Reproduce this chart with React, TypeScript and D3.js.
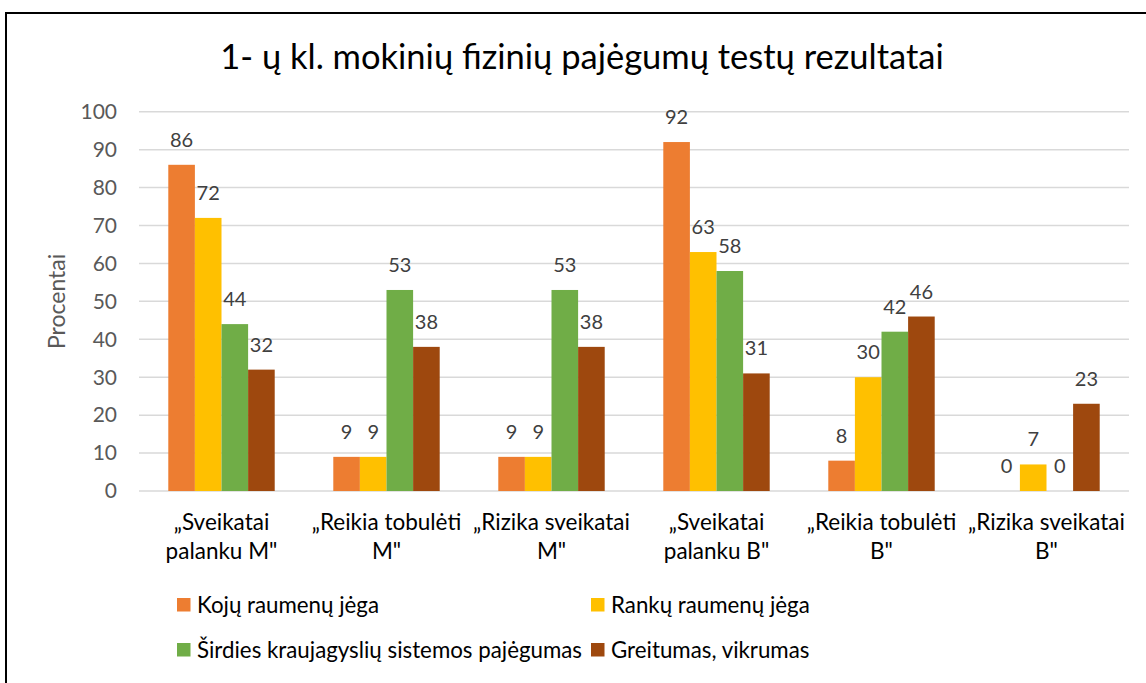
import React from "react";
import * as d3 from "d3";

const categories = [
  ["„Sveikatai", "palanku M\""],
  ["„Reikia tobulėti", "M\""],
  ["„Rizika sveikatai", "M\""],
  ["„Sveikatai", "palanku B\""],
  ["„Reikia tobulėti", "B\""],
  ["„Rizika sveikatai", "B\""],
];
const seriesNames = [
  "Kojų raumenų jėga",
  "Rankų raumenų jėga",
  "Širdies kraujagyslių sistemos pajėgumas",
  "Greitumas, vikrumas",
];
const kojuValues = [86, 9, 9, 92, 8, 0];
const rankuValues = [72, 9, 9, 63, 30, 7];
const sirdiesValues = [44, 53, 53, 58, 42, 0];
const greitumasValues = [32, 38, 38, 31, 46, 23];
const yTicks = [0, 10, 20, 30, 40, 50, 60, 70, 80, 90, 100];
const colors = ["#ED7D31", "#FFC000", "#70AD47", "#9E480E"];

const W = 1146;
const H = 683;
const font = "Lato, 'Open Sans', sans-serif";

const App = () => {
  const series = [kojuValues, rankuValues, sirdiesValues, greitumasValues];
  const left = 139, right = 1129, top = 111.7, bottom = 491;

  const x = d3.scaleBand<number>()
    .domain(d3.range(categories.length))
    .range([left, right]);
  const groupW = x.bandwidth() * 0.645;
  const xs = d3.scaleBand<number>()
    .domain(d3.range(series.length))
    .range([(x.bandwidth() - groupW) / 2, (x.bandwidth() + groupW) / 2]);
  const y = d3.scaleLinear().domain([0, 100]).range([bottom, top]);

  return (
    <svg width={W} height={H} style={{ position: "absolute", left: 0, top: 0 }} fontFamily={font}>
      <rect x={0} y={0} width={W} height={H} fill="white" />
      <rect x={6} y={13} width={W + 20} height={H + 20} fill="none" stroke="black" strokeWidth={2} />
      <text x={582} y={69} textAnchor="middle" fontSize={34.5} fill="#000">
        1- ų kl. mokinių fizinių pajėgumų testų rezultatai
      </text>

      {yTicks.map(t => (
        <g key={t}>
          <line x1={left} x2={right} y1={y(t)} y2={y(t)} stroke="#d9d9d9" strokeWidth={1.5} />
          <text x={117} y={y(t)} dy="0.35em" textAnchor="end" fontSize={21} fill="#595959">{t}</text>
        </g>
      ))}
      <text transform={`translate(65,${(top + bottom) / 2}) rotate(-90)`} textAnchor="middle"
        fontSize={23} fill="#595959">Procentai</text>

      {series.map((vals, si) => (
        <g key={si}>
          {vals.map((v, ci) => {
            const bx = (x(ci) as number) + (xs(si) as number);
            return (
              <g key={ci}>
                <rect x={bx} y={y(v)} width={xs.bandwidth()} height={bottom - y(v)} fill={colors[si]} />
                <text x={bx + xs.bandwidth() / 2} y={y(v) - 18} textAnchor="middle"
                  fontSize={20} fill="#404040">{v}</text>
              </g>
            );
          })}
        </g>
      ))}

      {categories.map((lines, ci) => (
        <text key={ci} textAnchor="middle" fontSize={22.5} fill="#000">
          {lines.map((l, li) => (
            <tspan key={li} x={(x(ci) as number) + x.bandwidth() / 2} y={530 + li * 29}>{l}</tspan>
          ))}
        </text>
      ))}

      {seriesNames.map((name, i) => {
        const lx = i % 2 === 0 ? 177 : 591;
        const ly = i < 2 ? 605 : 650;
        return (
          <g key={name}>
            <rect x={lx} y={ly - 7} width={13.5} height={13.5} fill={colors[i]} />
            <text x={lx + 20} y={ly} dy="0.35em" fontSize={22.3} fill="#000">{name}</text>
          </g>
        );
      })}
    </svg>
  );
};

export default App;
